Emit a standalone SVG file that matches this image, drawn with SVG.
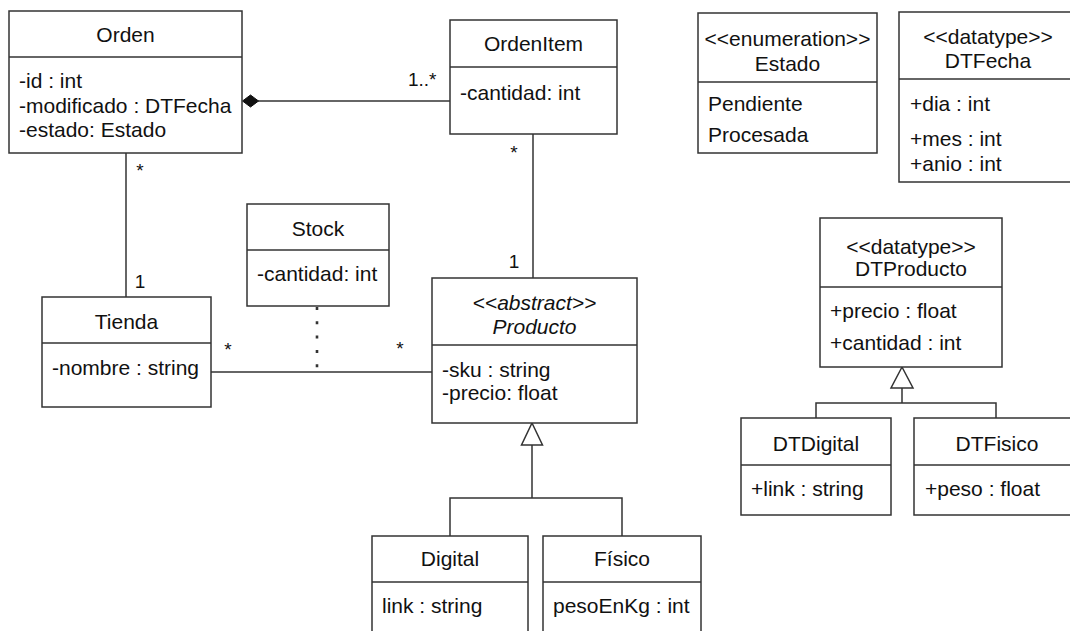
<svg xmlns="http://www.w3.org/2000/svg" width="1070" height="631" viewBox="0 0 1070 631">
<style>
.box{fill:#fff;stroke:#333;stroke-width:1.5}
.ln{fill:none;stroke:#333;stroke-width:1.5}
text{font-family:"Liberation Sans",Arial,Helvetica,sans-serif;font-size:21px;fill:#111}
.c{text-anchor:middle}
.i{font-style:italic}
.lbl{font-size:19px}
</style>
<rect width="1070" height="631" fill="#fff"/>
<g id="connectors">
<path class="ln" d="M258,101 H450"/>
<path d="M242.5,101 L250.5,95 L258.5,101 L250.5,107 Z" fill="#111" stroke="#111" stroke-width="1"/>
<path class="ln" d="M126,153 V297"/>
<path class="ln" d="M533,134 V278"/>
<path class="ln" d="M211,372 H432"/>
<path d="M317,307 V372" fill="none" stroke="#333" stroke-dasharray="3 11.3" stroke-width="2.6"/>
<path class="ln" d="M532,445 V498 M450,536 V498 H622 V536"/>
<path d="M532,423 L542.5,445 L521.5,445 Z" fill="#fff" stroke="#333" stroke-width="1.5"/>
<path class="ln" d="M902,388 V403 M816,418 V403 H996 V418"/>
<path d="M902,367 L913,388 L891,388 Z" fill="#fff" stroke="#333" stroke-width="1.5"/>
<text x="408" y="86" class="lbl">1..*</text>
<text x="140" y="177" class="lbl c">*</text>
<text x="140" y="288" class="lbl c">1</text>
<text x="514" y="159" class="lbl c">*</text>
<text x="514" y="268" class="lbl c">1</text>
<text x="228" y="356" class="lbl c">*</text>
<text x="400" y="355" class="lbl c">*</text>
</g>
<g id="Orden">
<rect class="box" x="9" y="11" width="233" height="142"/>
<path class="ln" d="M9,57 H242"/>
<text x="125.5" y="42" class="c">Orden</text>
<text x="19" y="88">-id : int</text>
<text x="19" y="112.5">-modificado : DTFecha</text>
<text x="19" y="137">-estado: Estado</text>
</g>
<g id="OrdenItem">
<rect class="box" x="450" y="20" width="167" height="114"/>
<path class="ln" d="M450,67 H617"/>
<text x="533.5" y="51" class="c">OrdenItem</text>
<text x="460" y="100">-cantidad: int</text>
</g>
<g id="Estado">
<rect class="box" x="698" y="13" width="179" height="140"/>
<path class="ln" d="M698,82 H877"/>
<text x="787.5" y="46" class="c">&lt;&lt;enumeration&gt;&gt;</text>
<text x="787.5" y="71" class="c">Estado</text>
<text x="708" y="111">Pendiente</text>
<text x="708" y="142">Procesada</text>
</g>
<g id="DTFecha">
<rect class="box" x="899" y="12" width="180" height="170"/>
<path class="ln" d="M899,79 H1079"/>
<text x="988" y="44" class="c">&lt;&lt;datatype&gt;&gt;</text>
<text x="988" y="68" class="c">DTFecha</text>
<text x="910" y="111">+dia : int</text>
<text x="910" y="146">+mes : int</text>
<text x="910" y="171">+anio : int</text>
</g>
<g id="Stock">
<rect class="box" x="247" y="204" width="142" height="102"/>
<path class="ln" d="M247,250 H389"/>
<text x="318" y="236" class="c">Stock</text>
<text x="257" y="281">-cantidad: int</text>
</g>
<g id="Tienda">
<rect class="box" x="42" y="297" width="169" height="110"/>
<path class="ln" d="M42,343 H211"/>
<text x="126.5" y="329" class="c">Tienda</text>
<text x="52" y="375">-nombre : string</text>
</g>
<g id="Producto">
<rect class="box" x="432" y="278" width="205" height="145"/>
<path class="ln" d="M432,345 H637"/>
<text x="534.5" y="310" class="c i">&lt;&lt;abstract&gt;&gt;</text>
<text x="534.5" y="334" class="c i">Producto</text>
<text x="442" y="377">-sku : string</text>
<text x="442" y="400">-precio: float</text>
</g>
<g id="Digital">
<rect class="box" x="372" y="536" width="156" height="120"/>
<path class="ln" d="M372,582 H528"/>
<text x="450" y="566" class="c">Digital</text>
<text x="382" y="613">link : string</text>
</g>
<g id="Fisico">
<rect class="box" x="543" y="536" width="158" height="120"/>
<path class="ln" d="M543,582 H701"/>
<text x="622" y="566" class="c">Físico</text>
<text x="553" y="613">pesoEnKg : int</text>
</g>
<g id="DTProducto">
<rect class="box" x="820" y="218" width="182" height="149"/>
<path class="ln" d="M820,287 H1002"/>
<text x="911" y="254" class="c">&lt;&lt;datatype&gt;&gt;</text>
<text x="911" y="276" class="c">DTProducto</text>
<text x="830" y="318">+precio : float</text>
<text x="830" y="350">+cantidad : int</text>
</g>
<g id="DTDigital">
<rect class="box" x="741" y="418" width="150" height="97"/>
<path class="ln" d="M741,465 H891"/>
<text x="816" y="451" class="c">DTDigital</text>
<text x="751" y="496">+link : string</text>
</g>
<g id="DTFisico">
<rect class="box" x="914" y="418" width="166" height="97"/>
<path class="ln" d="M914,465 H1080"/>
<text x="997" y="451" class="c">DTFisico</text>
<text x="925" y="496">+peso : float</text>
</g>
</svg>
